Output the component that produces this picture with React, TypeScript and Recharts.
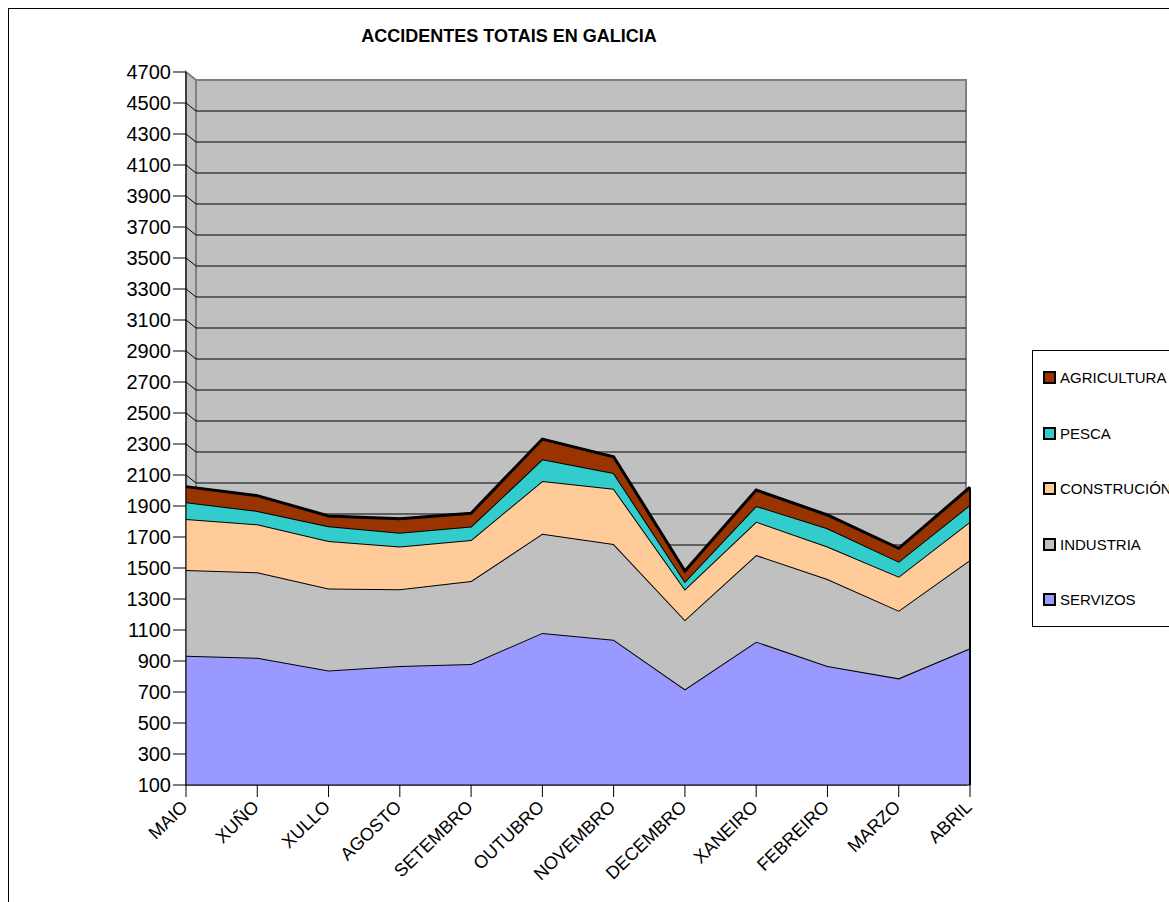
import React from "react";
import {
    AreaChart,
    Area,
    XAxis,
    YAxis,
    CartesianGrid,
    ReferenceArea,
    ReferenceLine,
} from "recharts";

const months = ["MAIO", "XUÑO", "XULLO", "AGOSTO", "SETEMBRO", "OUTUBRO", "NOVEMBRO", "DECEMBRO", "XANEIRO", "FEBREIRO", "MARZO", "ABRIL"];
const servizos = [934, 921, 838, 868, 881, 1081, 1037, 717, 1025, 868, 788, 982];
const industria = [553, 551, 529, 495, 535, 640, 618, 448, 559, 561, 437, 570];
const construcion = [329, 310, 307, 275, 265, 340, 357, 198, 215, 209, 219, 247];
const pesca = [108, 86, 95, 90, 86, 140, 101, 49, 101, 118, 97, 108];
const agricultura = [101, 99, 67, 90, 86, 131, 105, 69, 103, 86, 86, 114];
const yTicks = [100, 300, 500, 700, 900, 1100, 1300, 1500, 1700, 1900, 2100, 2300, 2500, 2700, 2900, 3100, 3300, 3500, 3700, 3900, 4100, 4300, 4500, 4700];

// bottom to top, as stacked
const series = [
    { key: "servizos", name: "SERVIZOS", color: "#9999FF", values: servizos },
    { key: "industria", name: "INDUSTRIA", color: "#C0C0C0", values: industria },
    { key: "construcion", name: "CONSTRUCIÓN", color: "#FFCC99", values: construcion },
    { key: "pesca", name: "PESCA", color: "#33CCCC", values: pesca },
    { key: "agricultura", name: "AGRICULTURA", color: "#993300", values: agricultura },
];

const data = months.map((month, i) => {
    const row: Record<string, string | number> = { month };
    series.forEach((s) => (row[s.key] = s.values[i]));
    return row;
});

const last = months.length - 1;
const lastTotal = series.reduce((sum, s) => sum + s.values[last], 0);

// back wall of the 3d plot area
const DEPTH_X = 10;
const DEPTH_Y = 8;

const Wall = (props: any) => {
    const { x, y, width, height } = props;
    return (
        <g>
            <polygon
                points={`${x},${y} ${x + DEPTH_X},${y + DEPTH_Y} ${x + DEPTH_X},${y + height} ${x},${y + height}`}
                fill="#C0C0C0"
                stroke="#808080"
                strokeWidth={2}
            />
            <rect
                x={x + DEPTH_X}
                y={y + DEPTH_Y}
                width={width - DEPTH_X - 4}
                height={height - DEPTH_Y}
                fill="#C0C0C0"
                stroke="#808080"
                strokeWidth={2}
            />
        </g>
    );
};

const GridLine = (props: any) => {
    const { x1, x2, y1, index } = props;
    if (index === 0 || index === yTicks.length - 1) return <g key={props.key} />;
    return (
        <path
            key={props.key}
            d={`M${x1},${y1} L${x1 + DEPTH_X},${y1 + DEPTH_Y} L${x2 - 4},${y1 + DEPTH_Y}`}
            stroke="#000"
            strokeWidth={1}
            fill="none"
        />
    );
};

const LegendBox = () => (
    <div
        style={{
            position: "absolute",
            left: 1032,
            top: 350,
            width: 170,
            height: 277,
            border: "1px solid #000",
            background: "#fff",
            boxSizing: "border-box",
        }}
    >
        {[...series].reverse().map((s, i) => (
            <div
                key={s.key}
                style={{
                    position: "absolute",
                    left: 10,
                    top: 18 + i * 55.6,
                    display: "flex",
                    alignItems: "center",
                    fontSize: 15,
                    whiteSpace: "nowrap",
                }}
            >
                <span
                    style={{
                        display: "inline-block",
                        width: 9,
                        height: 9,
                        background: s.color,
                        border: "2px solid #000",
                        marginRight: 4,
                    }}
                />
                {s.name}
            </div>
        ))}
    </div>
);

export default function App() {
    return (
        <div
            style={{
                position: "fixed",
                left: 0,
                top: 0,
                width: 1169,
                height: 902,
                overflow: "hidden",
                background: "#fff",
                fontFamily: "'Liberation Sans', Arial, sans-serif",
                color: "#000",
            }}
        >
            <div
                style={{
                    position: "absolute",
                    left: 8,
                    top: 8,
                    width: 1300,
                    height: 1000,
                    border: "1px solid #000",
                }}
            />
            <div
                style={{
                    position: "absolute",
                    left: 309,
                    top: 26,
                    width: 400,
                    textAlign: "center",
                    fontWeight: "bold",
                    fontSize: 18,
                }}
            >
                ACCIDENTES TOTAIS EN GALICIA
            </div>
            <div style={{ position: "absolute", left: 0, top: 0 }}>
                <AreaChart
                    width={1169}
                    height={902}
                    data={data}
                    margin={{ top: 72, right: 199, left: 116, bottom: 0 }}
                >
                    <ReferenceArea
                        x1={months[0]}
                        x2={months[last]}
                        y1={100}
                        y2={4700}
                        shape={<Wall />}
                        zIndex={-200}
                    />
                    <CartesianGrid vertical={false} horizontal={GridLine} />
                    <XAxis
                        dataKey="month"
                        interval={0}
                        height={117}
                        tickSize={12}
                        tick={{ fontSize: 18, fill: "#000", dx: -6 }}
                        angle={-44}
                        textAnchor="end"
                        axisLine={{ stroke: "#000" }}
                        tickLine={{ stroke: "#000" }}
                    />
                    <YAxis
                        width={70}
                        domain={[100, 4700]}
                        ticks={yTicks}
                        allowDataOverflow
                        interval={0}
                        tickSize={13}
                        tickMargin={2}
                        tick={{ fontSize: 20, fill: "#000" }}
                        axisLine={{ stroke: "#000" }}
                        tickLine={{ stroke: "#000" }}
                    />
                    {series.map((s, i) => (
                        <Area
                            key={s.key}
                            type="linear"
                            dataKey={s.key}
                            name={s.name}
                            stackId="1"
                            stroke="#000"
                            strokeWidth={i === series.length - 1 ? 3 : 2}
                            fill={s.color}
                            fillOpacity={1}
                            dot={false}
                            activeDot={false}
                            isAnimationActive={false}
                        />
                    ))}
                    <ReferenceLine
                        segment={[
                            { x: months[last], y: 100 },
                            { x: months[last], y: lastTotal },
                        ]}
                        stroke="#000"
                        strokeWidth={2}
                    />
                </AreaChart>
            </div>
            <LegendBox />
        </div>
    );
}
